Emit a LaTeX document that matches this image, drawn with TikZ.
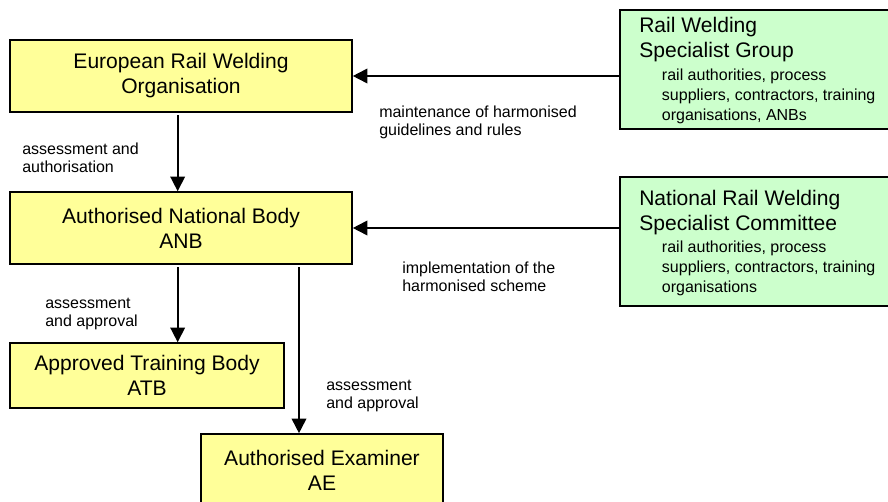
\documentclass[tikz,border=0pt]{standalone}
\usepackage{fontspec}
\setmainfont{Liberation Sans}
\usetikzlibrary{arrows.meta}
\definecolor{yfill}{HTML}{FFFF99}
\definecolor{gfill}{HTML}{CCFFCC}
\newcommand\bigf{\fontsize{15.8}{18.75}\selectfont}
\newcommand\smallf{\fontsize{12}{13.5}\selectfont}
\newcommand\gsmallf{\fontsize{12}{15}\selectfont}
\begin{document}
\begin{tikzpicture}[x=0.75pt,y=-0.75pt,
  ybox/.style={draw=black, line width=1.2pt, fill=yfill, align=center, font=\bigf, inner sep=0pt},
  gbox/.style={draw=black, line width=1.2pt, fill=gfill, inner sep=0pt, anchor=north west},
  lab/.style={font=\smallf, align=left, anchor=base west, inner sep=0pt},
  arr/.style={line width=1.3pt, -{Triangle[width=11pt,length=11pt]}}]
\useasboundingbox (0,0) rectangle (888,502);
\clip (0,0) rectangle (888,502);
\fill[white] (0,0) rectangle (888,502);

% boxes
\node[ybox, minimum width=256.5pt, minimum height=54pt] (erwo) at (181,76) {European Rail Welding\\Organisation};
\node[ybox, minimum width=256.5pt, minimum height=54pt] (anb) at (181,228) {Authorised National Body\\ANB};
\node[ybox, minimum width=205.5pt, minimum height=48.75pt] (atb) at (147,375.5) {Approved Training Body\\ATB};
\node[ybox, minimum width=181.5pt, minimum height=54pt] (ae) at (322,470) {Authorised Examiner\\AE};

\node[gbox, minimum width=225pt, minimum height=89.25pt] (rwsg) at (619,9) {};
\node[gbox, minimum width=225pt, minimum height=96.75pt] (nrwsc) at (619,176) {};

% green box texts (base anchor = last line baseline)
\node[lab, font=\bigf] (rwsgT) at (639,58) {Rail Welding\\Specialist Group};
\node[lab, font=\gsmallf] (rwsgS) at (661.7,120.7) {rail authorities, process\\suppliers, contractors, training\\organisations, ANBs};
\node[lab, font=\bigf] (nrwscT) at (639,230.3) {National Rail Welding\\Specialist Committee};
\node[lab, font=\gsmallf] (nrwscS) at (661.7,292.7) {rail authorities, process\\suppliers, contractors, training\\organisations};

% connectors
\draw[arr] (rwsg.west |- erwo.east) -- (erwo.east);
\draw[arr] (nrwsc.west |- anb.east) -- (anb.east);
\draw[arr, shorten <=2pt] ([xshift=-2.5pt]erwo.south) -- ([xshift=-2.5pt]anb.north);
\draw[arr, shorten <=2pt] ([xshift=-2.5pt]anb.south) -- ([xshift=-2.5pt]anb.south |- atb.north);
\draw[arr, shorten <=2pt] ([xshift=88.5pt]anb.south) -- ([xshift=88.5pt]anb.south |- ae.north);

% labels
\node[lab] (l1) at (22,173) {assessment and\\authorisation};
\node[lab] (l2) at (379,136) {maintenance of harmonised\\guidelines and rules};
\node[lab] (l3) at (402,291.5) {implementation of the\\harmonised scheme};
\node[lab] (l4) at (45,326) {assessment\\and approval};
\node[lab] (l5) at (326,408.5) {assessment\\and approval};
\end{tikzpicture}
\end{document}
